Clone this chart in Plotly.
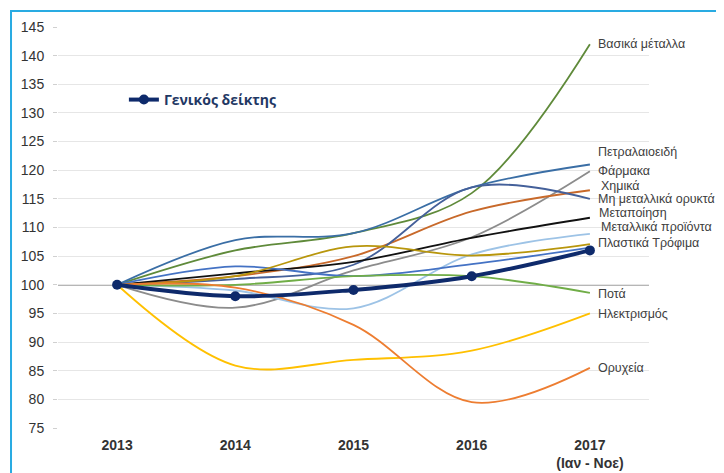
import plotly.graph_objects as go

years = ["2013", "2014", "2015", "2016", "2017<br>(Ιαν - Νοε)"]

basika = [100, 106, 109, 116, 142]
petral = [100, 107.8, 109, 117, 121]
farmaka = [100, 96, 102.5, 108.3, 119.8]
chimika = [100, 101.5, 105, 112.8, 116.5]
mi_metal = [100, 101, 103.5, 117, 115]
metapoiisi = [100, 102, 104, 108.2, 111.7]
metallika = [100, 99, 95.9, 105.3, 108.9]
plastika = [100, 103.2, 101.5, 103.6, 106.5]
trofima = [100, 101.5, 106.7, 105.1, 107.1]
pota = [100, 100, 101.5, 101.5, 98.6]
ilektr = [100, 85.9, 86.9, 88.5, 95]
oryx = [100, 99.5, 93, 79.5, 85.5]
geniko = [100, 98, 99.1, 101.5, 106]

series = [
    ("Βασικά μέταλλα", basika, "#5f8a3a"),
    ("Πετραλαιοειδή", petral, "#3a6ea5"),
    ("Φάρμακα", farmaka, "#8c8c8c"),
    ("Χημικά", chimika, "#c8692a"),
    ("Μη μεταλλικά ορυκτά", mi_metal, "#44609a"),
    ("Μεταποίηση", metapoiisi, "#111111"),
    ("Μεταλλικά προϊόντα", metallika, "#9dc3e6"),
    ("Πλαστικά", plastika, "#4472c4"),
    ("Τρόφιμα", trofima, "#b8960c"),
    ("Ποτά", pota, "#70ad47"),
    ("Ηλεκτρισμός", ilektr, "#ffc000"),
    ("Ορυχεία", oryx, "#ed7d31"),
]

# right-side label texts and their vertical positions (value units)
label_texts = ["Βασικά μέταλλα", "Πετραλαιοειδή", "Φάρμακα", "Χημικά", "Μη μεταλλικά ορυκτά",
               "Μεταποίηση", "Μεταλλικά προϊόντα", "Πλαστικά Τρόφιμα", "Ποτά", "Ηλεκτρισμός", "Ορυχεία"]
label_vals = [142.0, 123.2, 119.9, 117.3, 115.0, 112.5, 110.1, 107.3, 98.4, 94.9, 85.5]
label_dx = [0, 0, 0, 3, 0, 1, 3, 0, 0, 0, 0]

BASE = 100
yticks = list(range(75, 150, 5))

fig = go.Figure()
for name, vals, col in series:
    fig.add_trace(go.Scatter(x=years, y=vals, name=name, mode="lines",
                             line=dict(color=col, width=1.8, shape="spline", smoothing=1),
                             showlegend=False))
fig.add_trace(go.Scatter(x=years, y=geniko, name="Γενικός δείκτης", mode="lines+markers",
                         line=dict(color="#0e2a6b", width=4, shape="spline", smoothing=1),
                         marker=dict(color="#0e2a6b", size=10), showlegend=True))

for t, v, dx in zip(label_texts, label_vals, label_dx):
    fig.add_annotation(x=4.055, y=v, xref="x", yref="y", text=t, showarrow=False,
                       xanchor="left", yanchor="middle", xshift=dx,
                       font=dict(family="Liberation Sans", size=12.5, color="#404040"))

fig.add_shape(type="line", xref="paper", yref="y", x0=0, x1=1, y0=BASE, y1=BASE,
              line=dict(color="#6e6e6e", width=1.3), layer="below")
fig.add_shape(type="rect", xref="paper", yref="paper", x0=-0.0795, x1=1.3, y0=-0.3, y1=1.04,
              line=dict(color="#29abe2", width=2))

fig.update_layout(
    width=716, height=465,
    margin=dict(l=50, r=75, t=19, b=45),
    paper_bgcolor="white", plot_bgcolor="white",
    xaxis=dict(range=[-0.5, 4.5], showgrid=False, ticks="", showline=False,
               ticklabelstandoff=7, automargin=False,
               tickfont=dict(family="Liberation Sans", size=14, color="#333333", weight="bold")),
    yaxis=dict(range=[75, 145], tickvals=yticks, showgrid=True, gridcolor="#e6e6e6", gridwidth=1,
               zeroline=False, showline=False, ticks="outside", ticklen=4, tickcolor="#d0d0d0",
               ticklabelstandoff=6, automargin=False,
               tickfont=dict(family="Liberation Sans", size=14, color="#333333")),
    legend=dict(x=0.1115, y=0.818, yanchor="middle", xanchor="left", itemwidth=30,
                bgcolor="rgba(0,0,0,0)",
                font=dict(family="Open Sans", size=14, color="#1f3864", weight="bold")),
)

fig.write_html("out.html")
